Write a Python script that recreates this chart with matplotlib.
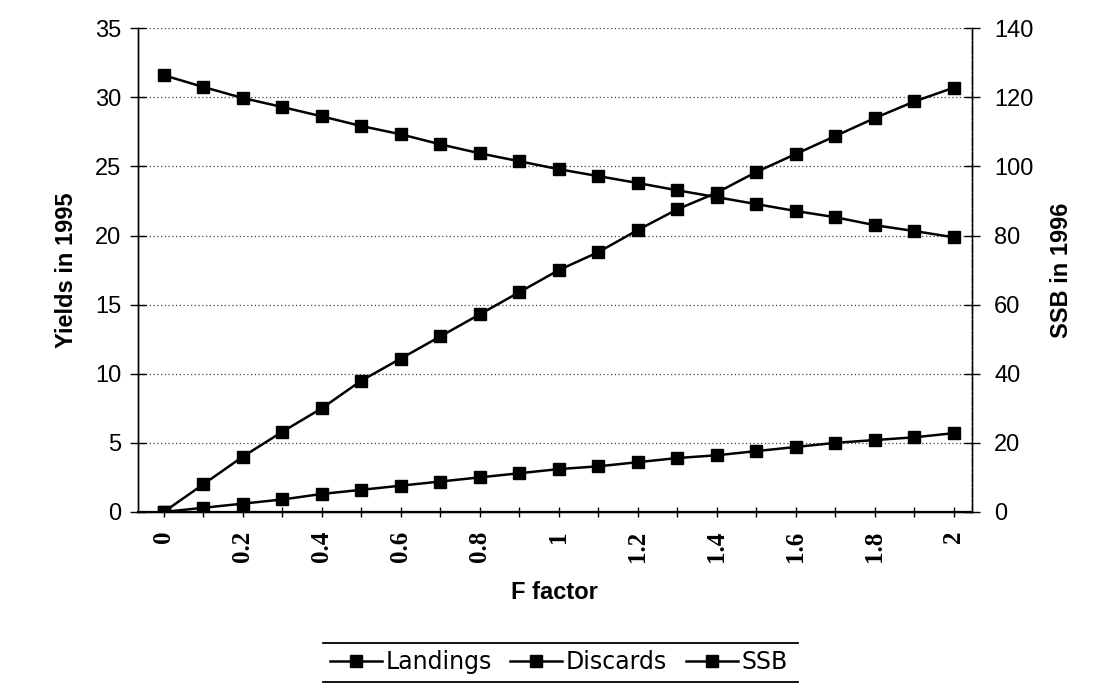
import matplotlib
matplotlib.use('Agg')
import matplotlib.pyplot as plt
from matplotlib.lines import Line2D

# F factor values (0 to 2 in steps of 0.1)
f_factor = [0.0, 0.1, 0.2, 0.3, 0.4, 0.5, 0.6, 0.7, 0.8, 0.9, 1.0,
            1.1, 1.2, 1.3, 1.4, 1.5, 1.6, 1.7, 1.8, 1.9, 2.0]

# Yields in 1995 (left axis)
landings = [0.0, 2.0, 4.0, 5.8, 7.5, 9.5, 11.1, 12.7, 14.3, 15.9, 17.5,
            18.8, 20.4, 21.9, 23.1, 24.6, 25.9, 27.2, 28.5, 29.7, 30.7]
discards = [0.0, 0.3, 0.6, 0.9, 1.3, 1.6, 1.9, 2.2, 2.5, 2.8, 3.1,
            3.3, 3.6, 3.9, 4.1, 4.4, 4.7, 5.0, 5.2, 5.4, 5.7]

# SSB in 1996 (right axis)
ssb = [126.4, 123.0, 119.8, 117.2, 114.5, 111.7, 109.3, 106.4, 103.8, 101.5, 99.2,
       97.2, 95.2, 93.1, 91.1, 89.1, 87.1, 85.3, 83.0, 81.3, 79.5]

x_ticks = [0, 0.2, 0.4, 0.6, 0.8, 1, 1.2, 1.4, 1.6, 1.8, 2]
x_tick_labels = ['0', '0.2', '0.4', '0.6', '0.8', '1', '1.2', '1.4', '1.6', '1.8', '2']
left_ticks = [0, 5, 10, 15, 20, 25, 30, 35]
right_ticks = [0, 20, 40, 60, 80, 100, 120, 140]

plt.rcParams['font.family'] = ['Liberation Sans', 'DejaVu Sans']

fig = plt.figure(figsize=(11.02, 6.89), dpi=100)
ax = fig.add_axes([0.125, 0.257, 0.757, 0.702])
ax2 = ax.twinx()

style = dict(color='black', marker='s', markersize=8.5, linewidth=1.8,
             markerfacecolor='black', markeredgecolor='black')
ax.plot(f_factor, landings, **style)
ax.plot(f_factor, discards, **style)
ax2.plot(f_factor, ssb, **style)

ax.set_xlim(-0.066, 2.046)
ax.set_ylim(0, 35)
ax2.set_ylim(0, 140)

ax.set_yticks(left_ticks)
ax.set_yticklabels([str(t) for t in left_ticks], fontsize=17)
ax2.set_yticks(right_ticks)
ax2.set_yticklabels([str(t) for t in right_ticks], fontsize=17)

ax.set_xticks(x_ticks)
ax.set_xticklabels(x_tick_labels, rotation=90, fontsize=18,
                   family='Liberation Serif', fontweight='bold')
ax.set_xticks([i / 10 for i in range(1, 20, 2)], minor=True)

ax.grid(axis='y', linestyle=(0, (1, 2)), color='#444444', linewidth=0.9)
ax.set_axisbelow(True)

for a in (ax, ax2):
    a.spines['top'].set_visible(False)
    for s in a.spines.values():
        s.set_linewidth(1.0)
ax.spines['bottom'].set_linewidth(1.6)
ax2.spines['right'].set_linestyle((0, (6, 2, 1, 2)))
ax.tick_params(axis='y', direction='inout', length=12, width=1.0, pad=6)
ax2.tick_params(axis='y', direction='inout', length=12, width=1.0, pad=10)
ax.tick_params(axis='x', which='both', direction='inout', length=7, width=1.0, pad=10)

ax.set_xlabel('F factor', fontsize=17, fontweight='bold', labelpad=14)
ax.set_ylabel('Yields in 1995', fontsize=17, fontweight='bold', labelpad=12)
ax2.set_ylabel('SSB in 1996', fontsize=17, fontweight='bold', labelpad=12)

handles = [Line2D([], [], **style) for _ in range(3)]
fig.legend(handles, ['Landings', 'Discards', 'SSB'], loc='center',
           bbox_to_anchor=(0.507, 0.039), ncol=3, frameon=False,
           prop={'family': 'DejaVu Sans', 'size': 17},
           handlelength=2.2, handletextpad=0.15, columnspacing=0.8)

# rules above and below the legend
fig.add_artist(Line2D([0.293, 0.724], [0.067, 0.067], color='black', linewidth=1.3,
                      transform=fig.transFigure))
fig.add_artist(Line2D([0.293, 0.724], [0.010, 0.010], color='black', linewidth=1.3,
                      transform=fig.transFigure))

plt.savefig('out.png', dpi=100)
